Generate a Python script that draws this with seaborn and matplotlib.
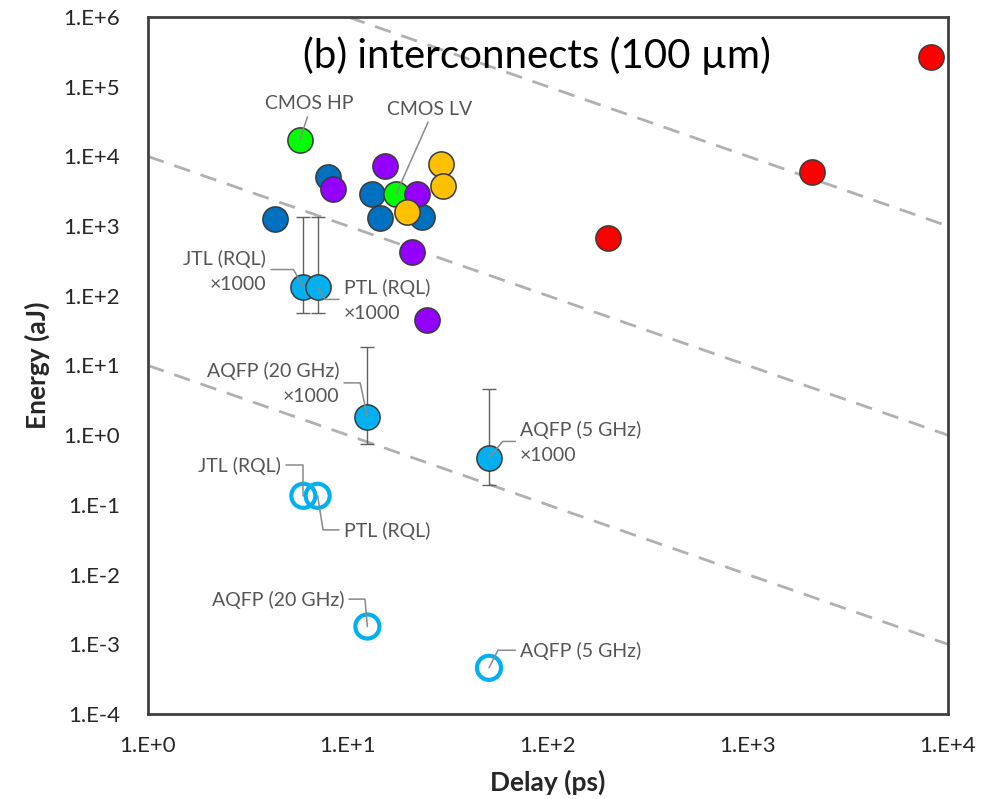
import matplotlib
matplotlib.use('Agg')
import matplotlib.pyplot as plt
import numpy as np
import pandas as pd
import seaborn as sns
from matplotlib.ticker import FuncFormatter, LogLocator

# Delay (ps) / Energy (aJ)
blue_delay = [4.32, 7.97, 13.2, 14.45, 23.4]
blue_energy = [1280, 5050, 2880, 1305, 1330]
purple_delay = [8.45, 15.3, 22.2, 20.8, 24.7]
purple_energy = [3400, 7170, 2880, 425, 44.6]
green_delay = [5.75, 17.4]
green_energy = [17300, 2880]
orange_delay = [29.2, 30.0, 19.7]
orange_energy = [7830, 3790, 1570]
red_delay = [200, 2100, 8200]
red_energy = [680, 6000, 270000]

# superconducting interconnects: x1000 values (filled) and real values (open)
sc_names = ['JTL (RQL)', 'PTL (RQL)', 'AQFP (20 GHz)', 'AQFP (5 GHz)']
sc_delay = [5.98, 7.05, 12.5, 50.7]
sc_energy_x1000 = [135, 135, 1.84, 0.475]
sc_err_low = [57, 57, 0.755, 0.195]
sc_err_high = [1365, 1365, 18.5, 4.63]
sc_energy = [0.135, 0.135, 0.0018, 0.00046]

# energy*delay guide lines
edp_levels = [1e7, 1e4, 1e1]

sns.set_style('white')
plt.rcParams['font.family'] = ['Lato', 'DejaVu Sans']

fig = plt.figure(figsize=(9.94, 7.99), dpi=100)
ax = fig.add_axes([148 / 994, 1 - 714 / 799, 800 / 994, 697 / 799])
ax.set_xscale('log')
ax.set_yscale('log')
ax.set_xlim(1, 1e4)
ax.set_ylim(1e-4, 1e6)

# dashed guide lines
xl = np.array([1, 1e4])
for c in edp_levels:
    ax.plot(xl, c / xl, ls=(0, (6, 4)), color='#b0b0b0', lw=2, zorder=1)

groups = pd.concat([
    pd.DataFrame({'delay': blue_delay, 'energy': blue_energy, 'grp': 'blue'}),
    pd.DataFrame({'delay': green_delay, 'energy': green_energy, 'grp': 'green'}),
    pd.DataFrame({'delay': purple_delay, 'energy': purple_energy, 'grp': 'purple'}),
    pd.DataFrame({'delay': orange_delay, 'energy': orange_energy, 'grp': 'orange'}),
    pd.DataFrame({'delay': red_delay, 'energy': red_energy, 'grp': 'red'}),
], ignore_index=True)
palette = {'blue': '#0070C0', 'green': '#00FF00', 'purple': '#9400FF',
           'orange': '#FFC000', 'red': '#FF0000'}
for g, sub in groups.groupby('grp', sort=False):
    sns.scatterplot(data=sub, x='delay', y='energy', color=palette[g], s=330,
                    edgecolor='#3a3a3a', linewidth=1.1, ax=ax, zorder=3, legend=False)

# error bars for x1000 points
sc_energy_x1000 = np.array(sc_energy_x1000)
yerr = [sc_energy_x1000 - np.array(sc_err_low), np.array(sc_err_high) - sc_energy_x1000]
ax.errorbar(sc_delay, sc_energy_x1000, yerr=yerr, fmt='none', ecolor='#606060',
            elinewidth=1.0, capsize=5, capthick=1.0, zorder=2)
sns.scatterplot(x=sc_delay, y=sc_energy_x1000, color='#00B0F0', s=330,
                edgecolor='#3a3a3a', linewidth=1.1, ax=ax, zorder=3, legend=False)
ax.scatter(sc_delay, sc_energy, s=300, facecolors='none', edgecolors='#00B0F0',
           linewidths=3, zorder=3)

# labels with leader lines
grey = '#555555'
def label(txt, x, y, dx, dy, ha, relpos, conn):
    ax.annotate(txt, xy=(x, y), xytext=(dx, dy), textcoords='offset pixels',
                ha=ha, va='center', fontsize=14, color=grey, zorder=5,
                linespacing=1.6,
                arrowprops=dict(arrowstyle='-', color='#8a8a8a', lw=1.1,
                                shrinkA=1, shrinkB=0, relpos=relpos,
                                connectionstyle=conn))

label('CMOS HP', green_delay[0], green_energy[0], 9, 36, 'center', (0.5, 0), 'arc3')
label('CMOS LV', green_delay[1], green_energy[1], 34, 85, 'center', (0.5, 0), 'arc3')
label('JTL (RQL)\n×1000', sc_delay[0], sc_energy_x1000[0], -37, 15, 'right', (1, 0.55),
      'angle,angleA=0,angleB=120,rad=0')
label('PTL (RQL)\n×1000', sc_delay[1], sc_energy_x1000[1], 26, -14, 'left', (0, 0.53),
      'angle,angleA=0,angleB=-60,rad=0')
label('AQFP (20 GHz)\n×1000', sc_delay[2], sc_energy_x1000[2], -28, 33, 'right', (1, 0.52),
      'angle,angleA=0,angleB=102,rad=0')
label('AQFP (5 GHz)\n×1000', sc_delay[3], sc_energy_x1000[3], 31, 15, 'left', (0, 0.53),
      'angle,angleA=0,angleB=50,rad=0')
label('JTL (RQL)', sc_delay[0], sc_energy[0], -22, 30, 'right', (1, 0.55),
      'angle,angleA=0,angleB=90,rad=0')
label('PTL (RQL)', sc_delay[1], sc_energy[1], 26, -35, 'left', (0, 0.55),
      'angle,angleA=0,angleB=-81,rad=0')
label('AQFP (20 GHz)', sc_delay[2], sc_energy[2], -23, 27, 'right', (1, 0.52),
      'angle,angleA=0,angleB=95,rad=0')
label('AQFP (5 GHz)', sc_delay[3], sc_energy[3], 31, 17, 'left', (0, 0.53),
      'angle,angleA=0,angleB=63,rad=0')

ax.text(0.486, 0.945, '(b) interconnects (100 µm)', transform=ax.transAxes,
        ha='center', va='center', fontsize=29, color='black')

# axes styling
fmt = FuncFormatter(lambda v, p: f"1.E{int(round(np.log10(v))):+d}")
ax.xaxis.set_major_formatter(fmt)
ax.yaxis.set_major_formatter(fmt)
ax.xaxis.set_major_locator(LogLocator(base=10, numticks=20))
ax.yaxis.set_major_locator(LogLocator(base=10, numticks=20))
ax.xaxis.set_minor_locator(LogLocator(base=10, subs=np.arange(2, 10), numticks=20))
ax.yaxis.set_minor_locator(LogLocator(base=10, subs=np.arange(2, 10), numticks=20))
ax.tick_params(which='both', direction='in', color='#404040', labelsize=16,
               labelcolor='#262626', top=False, right=False)
ax.tick_params(axis='y', which='major', length=7, width=1, pad=20)
ax.tick_params(axis='x', which='major', length=7, width=1, pad=16)
ax.tick_params(which='minor', length=4, width=0.8)
for side in ['left', 'bottom', 'top', 'right']:
    ax.spines[side].set_color('#404040')
    ax.spines[side].set_linewidth(2)
    ax.spines[side].set_visible(True)

ax.set_xlabel('Delay (ps)', fontsize=19, fontweight='bold', color='#262626', labelpad=10)
ax.set_ylabel('Energy (aJ)', fontsize=19, fontweight='bold', color='#262626', labelpad=10)

fig.savefig('out.png', dpi=100)
